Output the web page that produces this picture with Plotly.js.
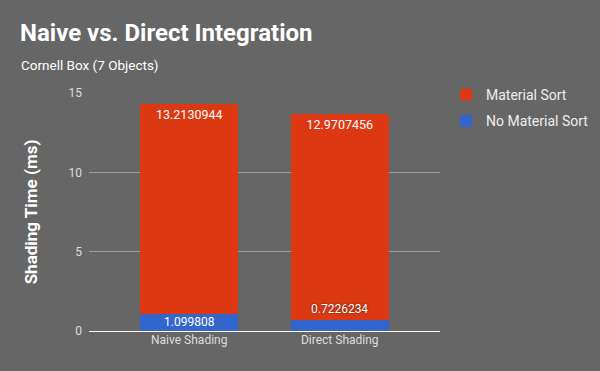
<!DOCTYPE html>
<html>
<head>
<meta charset="utf-8">
<script src="https://cdn.plot.ly/plotly-3.0.1.min.js"></script>
<style>html,body{margin:0;padding:0;background:#666666;}#chart{width:600px;height:371px;}</style>
</head>
<body>
<div id="chart"></div>
<script>
const categories = ["Naive Shading", "Direct Shading"];
const noMaterialSort = [1.099808, 0.7226234];
const materialSort = [13.2130944, 12.9707456];
const seriesNames = ["No Material Sort", "Material Sort"];
const yTicks = [0, 5, 10, 15];

const font = "Roboto, 'Open Sans', sans-serif";
const blue = "#3366cc", red = "#dc3912";

const annotations = [];
noMaterialSort.forEach((v, i) => {
  const fits = v >= 1;
  annotations.push({
    x: categories[i], y: fits ? v / 2 : v, xref: "x", yref: "y",
    text: String(v), showarrow: false,
    yanchor: fits ? "middle" : "bottom", yshift: fits ? 0 : 2,
    font: {family: font, size: 12, color: "#ffffff",
      shadow: fits ? "none" : "0px 0px 2px #222222"}
  });
});
annotations.push({
  xref: "paper", yref: "paper", x: -0.2, y: 1.1176,
  xanchor: "left", yanchor: "middle", showarrow: false,
  text: "Cornell Box (7 Objects)",
  font: {family: font, size: 13.5, color: "#ffffff"}
});

const traces = [
  {
    type: "bar", name: seriesNames[0], x: categories, y: noMaterialSort,
    marker: {color: blue}, width: 0.65, legendrank: 2, legendgroup: "b",
    hoverinfo: "none"
  },
  {
    type: "bar", name: seriesNames[1], x: categories, y: materialSort,
    marker: {color: red, cornerradius: 2}, width: 0.65, legendrank: 1, legendgroup: "a",
    text: materialSort.map(String), textposition: "inside", insidetextanchor: "end",
    textfont: {family: font, size: 12.5, color: "#ffffff"},
    hoverinfo: "none"
  }
];

const layout = {
  width: 600, height: 371,
  paper_bgcolor: "#666666", plot_bgcolor: "#666666",
  barmode: "stack",
  margin: {l: 89, r: 160, t: 93, b: 40},
  font: {family: font, color: "#eeeeee"},
  title: {
    text: "<b>Naive vs. Direct Integration</b>",
    x: 20/600, xanchor: "left", xref: "container",
    y: 1 - 33/371, yanchor: "middle", yref: "container",
    font: {family: font, size: 24, color: "#ffffff"}
  },
  xaxis: {
    range: [-0.666, 1.666], showgrid: false, zeroline: false, showline: false,
    tickfont: {family: font, size: 12, color: "#dddddd"}, ticks: ""
  },
  yaxis: {
    range: [0, 15], tickvals: yTicks, ticktext: yTicks.map(String),
    gridcolor: "#a0a0a0", gridwidth: 1,
    zeroline: true, zerolinecolor: "#ffffff", zerolinewidth: 1,
    tickfont: {family: font, size: 12, color: "#dddddd"}, ticks: "",
    ticklabelstandoff: 6,
    title: {text: "<b>Shading Time (ms)</b>", standoff: 26,
      font: {family: font, size: 17, color: "#ffffff"}}
  },
  legend: {
    xref: "container", yref: "container",
    x: 446/600, y: 1 - 79/371, xanchor: "left", yanchor: "top",
    traceorder: "grouped", tracegroupgap: 5,
    font: {family: font, size: 14, color: "#eeeeee"},
    bgcolor: "rgba(0,0,0,0)"
  },
  annotations: annotations,
  showlegend: true
};

Plotly.newPlot("chart", traces, layout, {displayModeBar: false, staticPlot: true});
</script>
</body>
</html>
